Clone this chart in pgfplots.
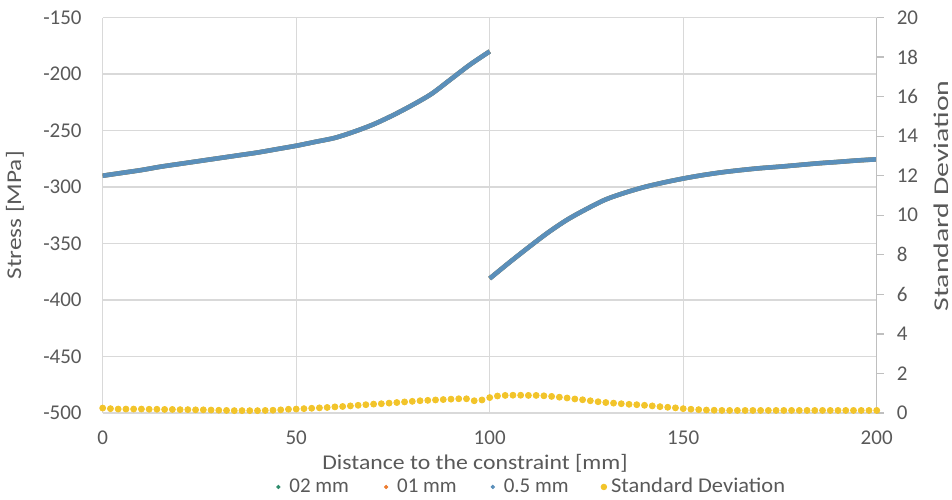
\documentclass[border=0pt]{standalone}
\usepackage{fontspec}
\setmainfont{Carlito}
\usepackage{graphicx}
\usepackage{pgfplots}
\usepackage{pgfplotstable}
\pgfplotsset{compat=1.18}

\definecolor{txtgray}{RGB}{89,89,89}
\definecolor{gridgray}{RGB}{217,217,217}
\definecolor{axgray}{RGB}{191,191,191}
\definecolor{serblue}{RGB}{90,143,186}
\definecolor{sergreen}{RGB}{46,140,108}
\definecolor{serorange}{RGB}{237,125,49}
\definecolor{seryellow}{RGB}{242,196,42}

% Stress along the specimen (two branches, split at the constraint)
\pgfplotstableread{
x     s
0     -290
5     -287.5
10    -285
15    -282
20    -279.5
25    -277
30    -274.5
35    -272
40    -269.5
45    -266.5
50    -263.5
55    -260
60    -256.5
65    -251
70    -244.5
75    -236.5
80    -227.5
85    -217.5
90    -204.5
95    -191.5
100   -180
100   nan
100   -381
105   -367
110   -353.5
115   -340.5
120   -329
125   -319.5
130   -311
135   -305
140   -300
145   -296
150   -292.5
155   -289.5
160   -287
165   -285
170   -283.3
175   -282
180   -280.5
185   -279
190   -277.8
195   -276.5
200   -275.5
}\stresstable

% Standard deviation between the three mesh sizes
\pgfplotstableread{
x    sd
0    0.25
2    0.22
4    0.20
6    0.20
8    0.20
10   0.20
12   0.19
14   0.19
16   0.18
18   0.18
20   0.17
22   0.17
24   0.16
26   0.16
28   0.15
30   0.14
32   0.13
34   0.12
36   0.12
38   0.12
40   0.12
42   0.13
44   0.14
46   0.16
48   0.19
50   0.20
52   0.22
54   0.24
56   0.26
58   0.28
60   0.31
62   0.33
64   0.36
66   0.39
68   0.42
70   0.45
72   0.47
74   0.50
76   0.53
78   0.56
80   0.59
82   0.62
84   0.64
86   0.66
88   0.68
90   0.70
92   0.72
94   0.72
96   0.62
98   0.66
100  0.78
102  0.86
104  0.89
106  0.90
108  0.90
110  0.89
112  0.89
114  0.87
116  0.84
118  0.80
120  0.76
122  0.71
124  0.67
126  0.62
128  0.57
130  0.53
132  0.50
134  0.47
136  0.44
138  0.42
140  0.39
142  0.36
144  0.32
146  0.29
148  0.26
150  0.22
152  0.19
154  0.17
156  0.15
158  0.14
160  0.13
162  0.13
164  0.13
166  0.13
168  0.13
170  0.13
172  0.13
174  0.13
176  0.13
178  0.13
180  0.13
182  0.13
184  0.13
186  0.13
188  0.13
190  0.13
192  0.13
194  0.13
196  0.13
198  0.13
200  0.13
}\sdtable

\begin{document}
\begin{tikzpicture}[font=\fontsize{10.5}{12.6}\selectfont]
\useasboundingbox (-51.35pt,-43pt) rectangle (424.65pt,206.5pt);

\begin{axis}[
  scale only axis,
  width=387pt, height=197.75pt,
  xmin=0, xmax=200, ymin=-500, ymax=-150,
  xtick={0,50,...,200},
  ytick={-500,-450,...,-150},
  grid=major,
  major grid style={draw=gridgray, line width=0.6pt},
  axis line style={draw=none},
  tick style={draw=none},
  unbounded coords=jump,
  /pgf/number format/assume math mode=true,
  ticklabel style={text=txtgray},
  yticklabel style={anchor=east, xshift=-7pt},
  xticklabel style={anchor=north, yshift=-5.4pt},
  every axis y label/.style={at={(axis description cs:-0.1133,0.5)}, rotate=90, anchor=center, text=txtgray},
  every axis x label/.style={at={(axis description cs:0.481,-0.1264)}, anchor=center, text=txtgray},
  xlabel={\scalebox{1.13}[1]{Distance to the constraint [mm]}},
  ylabel={\scalebox{1.2}[1]{Stress [MPa]}},
  legend columns=4,
  legend style={
    at={(axis description cs:0.2238,-0.187)}, anchor=west,
    draw=none, fill=none, text=txtgray,
    inner sep=0pt,
  },
  legend cell align=left,
]
\addlegendimage{legend image code/.code={\fill[sergreen] (0pt,0pt) circle (0.85pt); \path (3.3pt,0pt);}}
\addlegendentry{02 mm\rule{15.5pt}{0pt}}
\addlegendimage{legend image code/.code={\fill[serorange] (0pt,0pt) circle (0.85pt); \path (3.3pt,0pt);}}
\addlegendentry{01 mm\rule{15pt}{0pt}}
\addlegendimage{legend image code/.code={\fill[serblue] (0pt,0pt) circle (0.85pt); \path (3.3pt,0pt);}}
\addlegendentry{0.5 mm\rule{14pt}{0pt}}
\addlegendimage{legend image code/.code={\fill[seryellow] (0pt,0pt) circle (1.4pt);}}
\addlegendentry{\scalebox{1.07}[1]{Standard Deviation}}

\addplot[sergreen, line width=2.2pt, smooth, forget plot] table[x=x, y=s] {\stresstable};
\addplot[serorange, line width=2.2pt, smooth, forget plot] table[x=x, y=s] {\stresstable};
\addplot[serblue, line width=2.3pt, smooth, forget plot] table[x=x, y=s] {\stresstable};
\end{axis}

\begin{axis}[
  scale only axis,
  width=387pt, height=197.75pt,
  xmin=0, xmax=200, ymin=0, ymax=20,
  axis x line=none,
  axis y line*=right,
  axis line style={draw=axgray, line width=0.6pt},
  ytick={0,2,...,20},
  major tick length=3.5pt,
  tick align=outside,
  tick style={draw=axgray, line width=0.6pt},
  /pgf/number format/assume math mode=true,
  yticklabel style={anchor=west, xshift=3pt, text=txtgray},
  every axis y label/.style={at={(axis description cs:1.0831,0.549)}, rotate=90, anchor=center, text=txtgray},
  ylabel={\scalebox{1.42}[1]{Standard Deviation}},
  clip=false,
]
\addplot[seryellow, only marks, mark=*, mark size=1.5pt, mark options={draw=seryellow, fill=seryellow}] table[x=x, y=sd] {\sdtable};
\end{axis}
\end{tikzpicture}
\end{document}
